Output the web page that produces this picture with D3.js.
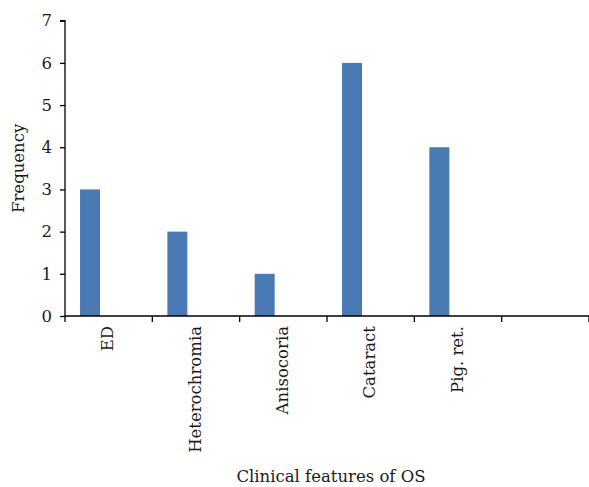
<!DOCTYPE html>
<html>
<head>
<meta charset="utf-8">
<script src="https://cdn.jsdelivr.net/npm/d3@7"></script>
<style>
  html, body { margin: 0; padding: 0; background: #fff; }
  svg { display: block; }
  text { font-family: "DejaVu Serif", "Liberation Serif", serif; fill: #1a1a1a; }
</style>
</head>
<body>
<svg id="chart" width="589" height="487"></svg>
<script>
const categories = ["ED", "Heterochromia", "Anisocoria", "Cataract", "Pig. ret.", ""];
const frequency = [3, 2, 1, 6, 4, null];
const yTicks = [0, 1, 2, 3, 4, 5, 6, 7];

(function () {
const svg = d3.select("#chart");
const mLeft = 65, mRight = 589, mTop = 20.7, mBottom = 316;
const fontSize = 16.5;

const x = d3.scaleBand().domain(categories.map((c, i) => i)).range([mLeft, mRight]).paddingInner(0).paddingOuter(0);
const y = d3.scaleLinear().domain([0, 7]).range([mBottom, mTop]);

const bw = x.bandwidth();

// bars
svg.append("g").selectAll("rect")
  .data(frequency.map((v, i) => ({ v, i })).filter(d => d.v != null))
  .join("rect")
  .attr("x", d => x(d.i) + bw * 0.172)
  .attr("width", bw * 0.229)
  .attr("y", d => y(d.v))
  .attr("height", d => y(0) - y(d.v))
  .attr("fill", "#4A7AB4");

// y axis
const yAxis = d3.axisLeft(y).tickValues(yTicks).tickSize(5).tickPadding(8).tickFormat(d3.format("d"));
const gy = svg.append("g").attr("transform", `translate(${mLeft},0)`).call(yAxis);
gy.select(".domain").attr("stroke", "#000").attr("stroke-width", 1.3).attr("d", `M-5,${mTop}H0V${mBottom}`);
gy.selectAll(".tick line").attr("stroke", "#000").attr("stroke-width", 1.3);
gy.selectAll(".tick text").attr("font-size", fontSize).attr("font-family", "DejaVu Serif").attr("fill", "#1a1a1a");

// x axis
const tickPositions = categories.map((c, i) => x(i)).concat([mRight]);
const gx = svg.append("g");
gx.append("line").attr("x1", mLeft).attr("x2", mRight).attr("y1", mBottom).attr("y2", mBottom)
  .attr("stroke", "#000").attr("stroke-width", 1.3);
gx.selectAll("line.tk").data(tickPositions).join("line").attr("class", "tk")
  .attr("x1", d => d).attr("x2", d => d).attr("y1", mBottom).attr("y2", mBottom + 6)
  .attr("stroke", "#000").attr("stroke-width", 1.3);

gx.selectAll("text.lbl").data(categories).join("text").attr("class", "lbl")
  .attr("transform", (d, i) => `translate(${x(i) + bw / 2 - 1},${mBottom + 10}) rotate(-90)`)
  .attr("text-anchor", "end")
  .attr("dy", "0.35em")
  .attr("font-size", fontSize)
  .text(d => d);

// axis titles
svg.append("text")
  .attr("transform", `translate(24,${(mTop + mBottom) / 2}) rotate(-90)`)
  .attr("text-anchor", "middle")
  .attr("font-size", fontSize)
  .text("Frequency");

svg.append("text")
  .attr("x", 331).attr("y", 482)
  .attr("text-anchor", "middle")
  .attr("font-size", fontSize)
  .text("Clinical features of OS");
})();
</script>
</body>
</html>
